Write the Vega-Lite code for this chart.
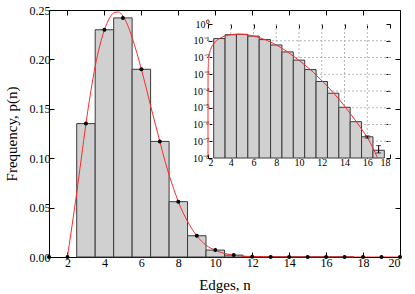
{
  "$schema": "https://vega.github.io/schema/vega-lite/v6.json",
  "width": 351,
  "height": 247,
  "autosize": {"type": "none"},
  "padding": {"left": 49, "top": 10, "right": 15, "bottom": 37},
  "config": {
    "font": "Liberation Serif",
    "view": {"stroke": "black", "strokeWidth": 1},
    "axis": {
      "labelFont": "Liberation Serif",
      "titleFont": "Liberation Serif",
      "labelColor": "black",
      "titleColor": "black",
      "titleFontWeight": "normal",
      "labelFontSize": 12,
      "titleFontSize": 15,
      "grid": false,
      "domain": false,
      "tickColor": "black",
      "tickSize": -5,
      "labelPadding": 4
    }
  },
  "datasets": {
    "hist": [
      {"n": 1, "lo": 0.5, "hi": 1.5, "p": 0},
      {"n": 2, "lo": 1.5, "hi": 2.5, "p": 0},
      {"n": 3, "lo": 2.5, "hi": 3.5, "p": 0.135},
      {"n": 4, "lo": 3.5, "hi": 4.5, "p": 0.23},
      {"n": 5, "lo": 4.5, "hi": 5.5, "p": 0.242},
      {"n": 6, "lo": 5.5, "hi": 6.5, "p": 0.19},
      {"n": 7, "lo": 6.5, "hi": 7.5, "p": 0.117},
      {"n": 8, "lo": 7.5, "hi": 8.5, "p": 0.056},
      {"n": 9, "lo": 8.5, "hi": 9.5, "p": 0.0215},
      {"n": 10, "lo": 9.5, "hi": 10.5, "p": 0.007},
      {"n": 11, "lo": 10.5, "hi": 11.5, "p": 0.0019},
      {"n": 12, "lo": 11.5, "hi": 12.5, "p": 0.00037},
      {"n": 13, "lo": 12.5, "hi": 13.5, "p": 0.000074},
      {"n": 14, "lo": 13.5, "hi": 14.5, "p": 0.0000107},
      {"n": 15, "lo": 14.5, "hi": 15.5, "p": 0.00000147},
      {"n": 16, "lo": 15.5, "hi": 16.5, "p": 0.000000185},
      {"n": 17, "lo": 16.5, "hi": 17.5, "p": 0.000000029},
      {"n": 18, "lo": 17.5, "hi": 18.5, "p": 0},
      {"n": 19, "lo": 18.5, "hi": 19.5, "p": 0},
      {"n": 20, "lo": 19.5, "hi": 20.5, "p": 0}
    ],
    "curve": [
      {"x": 2.0, "p": 0},
      {"x": 2.0000001, "p": 0.000000013},
      {"x": 2.000001, "p": 0.00000013},
      {"x": 2.00001, "p": 0.0000013},
      {"x": 2.0001, "p": 0.000013},
      {"x": 2.001, "p": 0.00013},
      {"x": 2.01, "p": 0.0013},
      {"x": 2.05, "p": 0.0065},
      {"x": 2.1, "p": 0.013},
      {"x": 2.25, "p": 0.032},
      {"x": 2.5, "p": 0.065},
      {"x": 2.75, "p": 0.1},
      {"x": 3.0, "p": 0.135},
      {"x": 3.25, "p": 0.166},
      {"x": 3.5, "p": 0.193},
      {"x": 3.75, "p": 0.214},
      {"x": 4.0, "p": 0.23},
      {"x": 4.25, "p": 0.241},
      {"x": 4.5, "p": 0.247},
      {"x": 4.75, "p": 0.248},
      {"x": 5.0, "p": 0.244},
      {"x": 5.25, "p": 0.235},
      {"x": 5.5, "p": 0.222},
      {"x": 5.75, "p": 0.207},
      {"x": 6.0, "p": 0.19},
      {"x": 6.25, "p": 0.172},
      {"x": 6.5, "p": 0.153},
      {"x": 6.75, "p": 0.135},
      {"x": 7.0, "p": 0.117},
      {"x": 7.25, "p": 0.099},
      {"x": 7.5, "p": 0.083},
      {"x": 7.75, "p": 0.069},
      {"x": 8.0, "p": 0.056},
      {"x": 8.5, "p": 0.036},
      {"x": 9.0, "p": 0.0215},
      {"x": 9.5, "p": 0.012},
      {"x": 10.0, "p": 0.0068},
      {"x": 10.5, "p": 0.0036},
      {"x": 11.0, "p": 0.0019},
      {"x": 11.5, "p": 0.0009},
      {"x": 12.0, "p": 0.00042},
      {"x": 12.5, "p": 0.00019},
      {"x": 13.0, "p": 0.00008},
      {"x": 13.5, "p": 0.000033},
      {"x": 14.0, "p": 0.0000125},
      {"x": 14.5, "p": 0.0000046},
      {"x": 15.0, "p": 0.0000016},
      {"x": 15.5, "p": 0.00000053},
      {"x": 16.0, "p": 0.00000017},
      {"x": 16.5, "p": 0.00000004},
      {"x": 16.9, "p": 0.00000001},
      {"x": 17.5, "p": 0.000000001},
      {"x": 18.0, "p": 1e-10},
      {"x": 20.0, "p": 1e-14}
    ],
    "err": [
      {"n": 16, "lo": 0.000000155, "hi": 0.00000021},
      {"n": 17, "lo": 0.00000002, "hi": 0.000000055}
    ],
    "gridx": [{"g": 4}, {"g": 6}, {"g": 8}, {"g": 10}, {"g": 12}, {"g": 14}, {"g": 16}],
    "gridy": [{"g": 0.1}, {"g": 0.01}, {"g": 0.001}, {"g": 0.0001}, {"g": 0.00001}, {"g": 0.000001}, {"g": 0.0000001}]
  },
  "layer": [
    {
      "layer": [
        {
          "data": {"name": "hist"},
          "transform": [{"filter": "datum.p > 0"}],
          "mark": {"type": "rect", "fill": "#d0d0d0", "stroke": "#3a3a3a", "strokeWidth": 1},
          "encoding": {
            "x": {"field": "lo", "type": "quantitative",
              "scale": {"domain": [1, 20], "nice": false, "zero": false},
              "axis": {"orient": "bottom", "values": [2, 4, 6, 8, 10, 12, 14, 16, 18, 20], "title": "Edges, n", "titlePadding": 9, "labelPadding": 5}},
            "x2": {"field": "hi"},
            "y": {"field": "p", "type": "quantitative",
              "scale": {"domain": [0, 0.25], "nice": false},
              "axis": {"orient": "left", "values": [0, 0.05, 0.1, 0.15, 0.2, 0.25], "title": "Frequency, p(n)", "titlePadding": 10}},
            "y2": {"datum": 0}
          }
        },
        {
          "data": {"name": "curve"},
          "mark": {"type": "line", "color": "#ff2a2a", "strokeWidth": 1, "interpolate": "monotone", "clip": true},
          "encoding": {
            "x": {"field": "x", "type": "quantitative", "axis": null},
            "y": {"field": "p", "type": "quantitative", "axis": null}
          }
        },
        {
          "data": {"name": "hist"},
          "mark": {"type": "point", "filled": true, "color": "black", "size": 16, "opacity": 1},
          "encoding": {
            "x": {"field": "n", "type": "quantitative",
              "axis": {"orient": "top", "values": [2, 4, 6, 8, 10, 12, 14, 16, 18, 20], "labels": false, "title": null}},
            "y": {"field": "p", "type": "quantitative",
              "axis": {"orient": "right", "values": [0, 0.05, 0.1, 0.15, 0.2, 0.25], "labels": false, "title": null}}
          }
        }
      ],
      "resolve": {"axis": {"x": "independent", "y": "independent"}}
    },
    {
      "layer": [
        {
          "data": {"name": "gridx"},
          "mark": {"type": "rule", "color": "#b5b5b5", "strokeWidth": 1, "strokeDash": [2, 2]},
          "encoding": {
            "x": {"field": "g", "type": "quantitative",
              "scale": {"domain": [2, 18], "range": [159, 341], "nice": false, "zero": false},
              "axis": {"orient": "bottom", "offset": -99, "values": [2, 4, 6, 8, 10, 12, 14, 16, 18], "title": null,
                "labelFontSize": 10, "tickSize": -4, "labelPadding": 3}},
            "y": {"datum": 1, "type": "quantitative",
              "scale": {"type": "log", "domain": [1e-8, 1], "range": [148, 14]},
              "axis": {"orient": "left", "offset": -159, "values": [1, 0.1, 0.01, 0.001, 0.0001, 0.00001, 0.000001, 0.0000001, 0.00000001],
                "labelExpr": "'10' + ['⁰','⁻¹','⁻²','⁻³','⁻⁴','⁻⁵','⁻⁶','⁻⁷','⁻⁸'][round(-log(datum.value)/LN10)]",
                "title": null, "labelFontSize": 10, "tickSize": -4, "labelPadding": 3}},
            "y2": {"datum": 1e-8}
          }
        },
        {
          "data": {"name": "gridy"},
          "mark": {"type": "rule", "color": "#b5b5b5", "strokeWidth": 1, "strokeDash": [2, 2]},
          "encoding": {
            "y": {"field": "g", "type": "quantitative", "axis": null},
            "x": {"datum": 2, "type": "quantitative", "axis": null},
            "x2": {"datum": 18}
          }
        },
        {
          "data": {"name": "hist"},
          "transform": [{"filter": "datum.p > 0"}],
          "mark": {"type": "rect", "fill": "#d0d0d0", "stroke": "#3a3a3a", "strokeWidth": 1},
          "encoding": {
            "x": {"field": "lo", "type": "quantitative", "axis": null},
            "x2": {"field": "hi"},
            "y": {"field": "p", "type": "quantitative", "axis": null},
            "y2": {"datum": 1e-8}
          }
        },
        {
          "data": {"name": "curve"},
          "transform": [{"filter": "datum.p >= 0.00000001"}],
          "mark": {"type": "line", "color": "#ff2a2a", "strokeWidth": 1, "interpolate": "monotone"},
          "encoding": {
            "x": {"field": "x", "type": "quantitative", "axis": null},
            "y": {"field": "p", "type": "quantitative", "axis": null}
          }
        },
        {
          "data": {"name": "err"},
          "mark": {"type": "rule", "color": "black", "strokeWidth": 1},
          "encoding": {
            "x": {"field": "n", "type": "quantitative", "axis": null},
            "y": {"field": "lo", "type": "quantitative", "axis": null},
            "y2": {"field": "hi"}
          }
        },
        {
          "data": {"name": "err"},
          "mark": {"type": "tick", "color": "black", "orient": "horizontal", "size": 5, "thickness": 1},
          "encoding": {
            "x": {"field": "n", "type": "quantitative", "axis": null},
            "y": {"field": "lo", "type": "quantitative", "axis": null}
          }
        },
        {
          "data": {"name": "err"},
          "mark": {"type": "tick", "color": "black", "orient": "horizontal", "size": 5, "thickness": 1},
          "encoding": {
            "x": {"field": "n", "type": "quantitative", "axis": null},
            "y": {"field": "hi", "type": "quantitative", "axis": null}
          }
        },
        {
          "mark": {"type": "rect", "filled": false, "stroke": "#3a3a3a", "strokeWidth": 1},
          "encoding": {
            "x": {"datum": 2, "type": "quantitative",
              "axis": {"orient": "top", "offset": -14, "values": [2, 4, 6, 8, 10, 12, 14, 16, 18], "labels": false, "title": null, "tickSize": -4}},
            "x2": {"datum": 18},
            "y": {"datum": 1, "type": "quantitative",
              "axis": {"orient": "right", "offset": -10, "values": [1, 0.1, 0.01, 0.001, 0.0001, 0.00001, 0.000001, 0.0000001, 0.00000001], "labels": false, "title": null, "tickSize": -4}},
            "y2": {"datum": 1e-8}
          }
        }
      ],
      "resolve": {"axis": {"x": "independent", "y": "independent"}}
    }
  ],
  "resolve": {"scale": {"x": "independent", "y": "independent"}, "axis": {"x": "independent", "y": "independent"}}
}
